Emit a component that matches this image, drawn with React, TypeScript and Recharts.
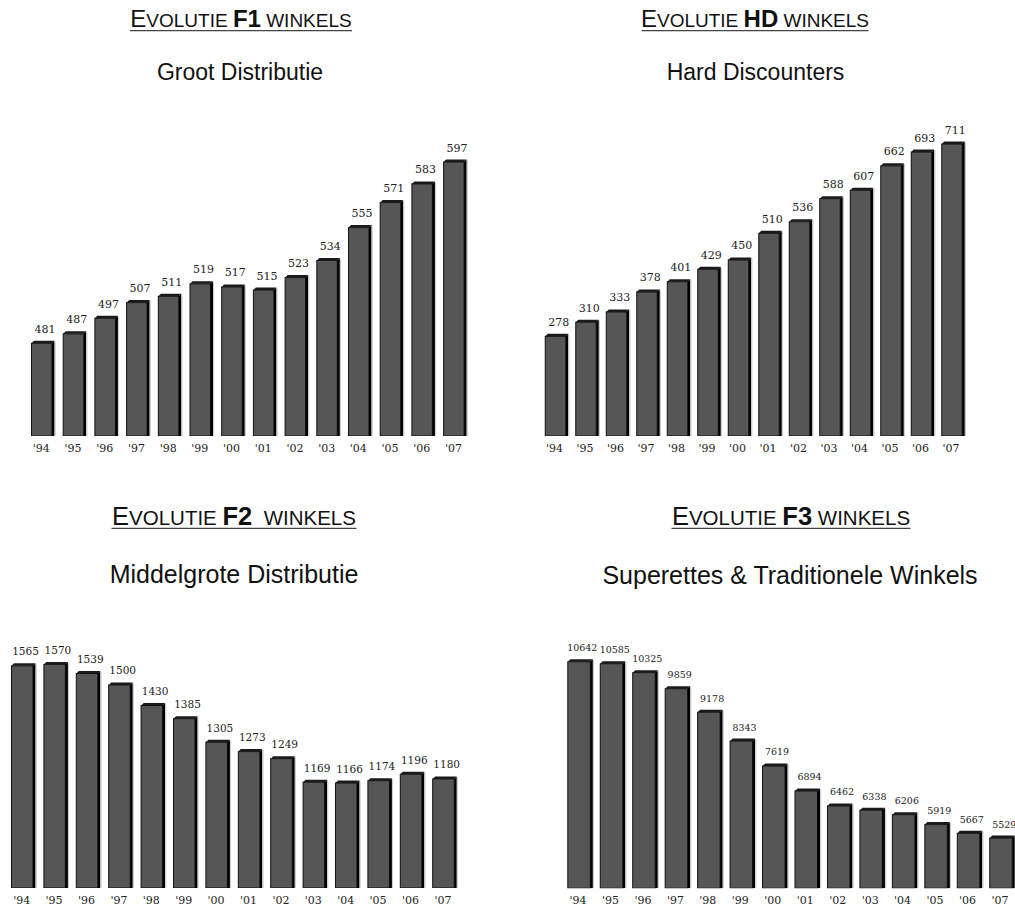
import React from 'react';
import { BarChart, Bar, XAxis, YAxis, LabelList } from 'recharts';

const years = ["'94", "'95", "'96", "'97", "'98", "'99", "'00", "'01", "'02", "'03", "'04", "'05", "'06", "'07"];
const f1Values = [481, 487, 497, 507, 511, 519, 517, 515, 523, 534, 555, 571, 583, 597];
const hdValues = [278, 310, 333, 378, 401, 429, 450, 510, 536, 588, 607, 662, 693, 711];
const f2Values = [1565, 1570, 1539, 1500, 1430, 1385, 1305, 1273, 1249, 1169, 1166, 1174, 1196, 1180];
const f3Values = [10642, 10585, 10325, 9859, 9178, 8343, 7619, 6894, 6462, 6338, 6206, 5919, 5667, 5529];

const makeData = (vals: number[]) => years.map((year, i) => ({ year, value: vals[i] }));

const SERIF = '"DejaVu Serif", "Liberation Serif", serif';
const SANS = '"Liberation Sans", Arial, sans-serif';

const Bar3D = (props: any) => {
  const { x, y, width, height } = props;
  if (height == null || height <= 0) return null;
  const d = 2.5;
  return (
    <g>
      <rect x={x} y={y + d} width={width - d} height={height - d} fill="#565656" stroke="#111" strokeWidth={1} />
      <polygon points={`${x},${y + d} ${x + d},${y} ${x + width},${y} ${x + width - d},${y + d}`} fill="#1a1a1a" />
      <polygon points={`${x + width - d},${y + d} ${x + width},${y} ${x + width},${y + height} ${x + width - d},${y + height}`} fill="#000" />
      <line x1={x + width + 0.7} y1={y + 1} x2={x + width + 0.7} y2={y + height} stroke="#c8c8c8" strokeWidth={1} />
    </g>
  );
};

const makeLabel = (size: number) => (props: any) => {
  const { x, y, width, value } = props;
  return (
    <text x={x + width / 2 + 2} y={y - 8} textAnchor="middle" fontFamily={SERIF} fontSize={size} fill="#222">
      {value}
    </text>
  );
};

const makeTick = (size: number) => (props: any) => {
  const { x, y, payload } = props;
  return (
    <text x={x - 2} y={y + 15.5} textAnchor="middle" fontFamily={SERIF} fontSize={size} fill="#222">
      {payload.value}
    </text>
  );
};

type PanelProps = {
  left: number; top: number; width: number; height: number;
  margin: { top: number; right: number; bottom: number; left: number };
  domain: [number, number]; barSize: number; labelSize: number; values: number[];
};

const Panel = ({ left, top, width, height, margin, domain, barSize, labelSize, values }: PanelProps) => (
  <div style={{ position: 'absolute', left, top, width, height }}>
    <BarChart width={width} height={height} data={makeData(values)} margin={margin} barCategoryGap={0}>
      <XAxis dataKey="year" axisLine={false} tickLine={false} tickSize={0} tickMargin={0} height={30} interval={0} tick={makeTick(11)} />
      <YAxis hide type="number" domain={domain} allowDataOverflow />
      <Bar dataKey="value" barSize={barSize} shape={Bar3D} isAnimationActive={false}>
        <LabelList dataKey="value" content={makeLabel(labelSize)} />
      </Bar>
    </BarChart>
  </div>
);

const Title = ({ cx, y, big, small, code, rest, uw }: any) => (
  <g>
    <text x={cx} y={y} textAnchor="middle" fontFamily={SANS} fill="#111" style={{ whiteSpace: 'pre' }}>
      <tspan fontSize={big}>E</tspan>
      <tspan fontSize={small}>VOLUTIE </tspan>
      <tspan fontSize={big} fontWeight="bold">{code}</tspan>
      <tspan fontSize={small}>{rest}</tspan>
    </text>
    <line x1={cx - uw / 2} x2={cx + uw / 2} y1={y + 3.3} y2={y + 3.3} stroke="#444" strokeWidth={1.3} />
  </g>
);

export default function App() {
  return (
    <div style={{ position: 'absolute', left: 0, top: 0, width: 1015, height: 909, overflow: 'hidden', background: '#fff' }}>
      <svg width={1015} height={909} style={{ position: 'absolute', left: 0, top: 0 }}>
        <Title cx={241} y={27.3} big={24} small={19} code="F1" rest=" WINKELS" uw={222} />
        <text x={240} y={80} textAnchor="middle" fontFamily={SANS} fontSize={23} fill="#111">Groot Distributie</text>
        <Title cx={755} y={27.3} big={24} small={19} code="HD" rest=" WINKELS" uw={227} />
        <text x={755.5} y={80} textAnchor="middle" fontFamily={SANS} fontSize={23} fill="#111">Hard Discounters</text>
        <Title cx={234} y={525} big={25.5} small={20.5} code="F2" rest={'\u00A0 WINKELS'} uw={245} />
        <text x={234} y={582.7} textAnchor="middle" fontFamily={SANS} fontSize={25} fill="#111">Middelgrote Distributie</text>
        <Title cx={791} y={525} big={25.5} small={20.5} code="F3" rest=" WINKELS" uw={239} />
        <text x={790} y={584} textAnchor="middle" fontFamily={SANS} fontSize={25} fill="#111">Superettes &amp; Traditionele Winkels</text>
      </svg>
      <Panel left={0} top={100} width={500} height={366}
        margin={{ top: 39.2, right: 28.7, bottom: 0, left: 27.5 }}
        domain={[420, 610]} barSize={23} labelSize={11} values={f1Values} />
      <Panel left={520} top={90} width={470} height={376}
        margin={{ top: 29.8, right: 21.75, bottom: 0, left: 21.25 }}
        domain={[48, 760]} barSize={23} labelSize={11} values={hdValues} />
      <Panel left={0} top={600} width={480} height={318}
        margin={{ top: 38.4, right: 18.9, bottom: 0, left: 7.5 }}
        domain={[800, 1650]} barSize={24} labelSize={10.5} values={f2Values} />
      <Panel left={555} top={600} width={470} height={318.3}
        margin={{ top: 40, right: 6.8, bottom: 0, left: 8.8 }}
        domain={[4000, 11200]} barSize={25} labelSize={9.5} values={f3Values} />
    </div>
  );
}
